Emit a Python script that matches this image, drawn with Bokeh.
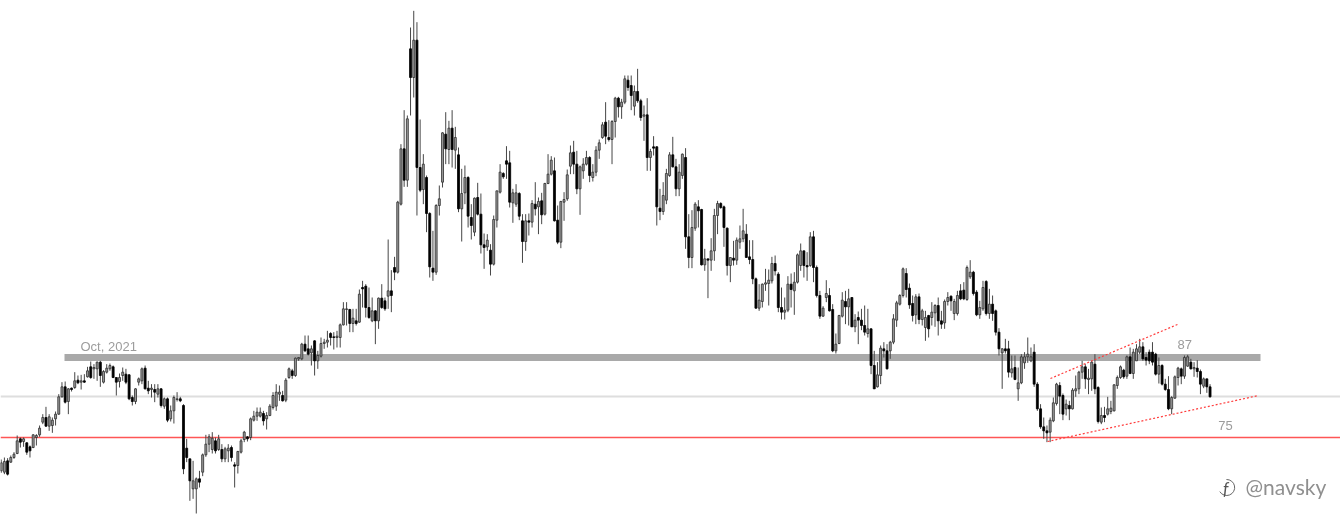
from bokeh.plotting import figure
from bokeh.embed import file_html
from bokeh.resources import INLINE
from bokeh.models import Range1d, ColumnDataSource
from bokeh.core.properties import value

# Each row: open, high, low, close
rise_2021 = [
(70.0,71.7,69.7,71.2),(69.8,72.0,69.5,71.4),(71.5,71.9,69.3,69.5),(71.3,72.3,71.2,72.0),(72.0,72.8,71.8,72.5),
(72.6,75.3,72.5,74.5),(74.8,75.0,73.5,74.3),(74.4,75.0,73.6,74.8),(74.2,74.3,72.4,72.8),(73.6,73.8,72.0,73.0),
(73.5,75.5,73.4,75.4),(75.0,75.5,73.8,75.3),(75.4,76.8,75.1,76.4),(77.3,78.5,77.0,78.0),(78.0,79.6,76.6,76.7),
(76.7,78.5,76.0,78.1),(76.8,78.0,75.7,77.6),(77.8,78.9,76.8,78.5),(78.5,81.5,78.4,81.1),(81.1,83.3,81.0,82.6),
(82.6,83.4,80.1,80.3),(80.4,82.4,78.5,82.3),(82.4,82.5,81.9,82.2),(82.5,84.8,82.3,83.5),(83.6,84.3,83.0,83.2),
(83.3,84.4,82.2,83.5),(83.5,84.5,83.2,83.3),(84.1,85.6,84.0,85.0),(85.6,86.4,83.8,84.0),(85.3,86.0,83.8,85.5),
(85.3,86.4,83.5,86.3),(86.3,86.5,82.6,84.3),(83.3,85.1,83.1,84.9),(84.8,86.0,84.6,85.4),(85.3,86.1,85.0,85.8),
(85.6,85.8,83.9,84.0),(84.0,84.0,81.3,83.3),(83.4,84.6,82.5,84.0),(84.3,85.5,83.5,84.8),(84.5,85.3,83.0,83.3),
(84.4,84.5,80.6,80.8),(81.0,81.3,79.8,80.4),(80.4,82.4,80.0,82.3),(83.3,84.0,82.8,83.8),(83.5,85.5,83.0,85.3),
(85.4,85.8,82.2,82.3),(82.4,83.5,81.5,82.0),(82.2,83.0,81.0,82.4),(82.2,83.0,80.3,81.8),(81.5,83.0,81.0,82.3),
(82.3,82.4,79.5,79.8),(79.7,81.0,79.3,80.8),(80.8,81.0,77.3,77.6),(77.8,79.8,77.4,79.0),(79.0,81.3,77.1,81.0),
(80.7,81.8,80.4,80.8),(80.8,81.1,80.3,80.5),
]
drop_and_recovery = [
(79.8,80.0,69.5,70.3),(73.4,74.8,71.3,72.0),(71.8,71.8,65.5,68.5),(67.3,71.5,65.8,68.5),(67.3,69.0,63.6,68.8),
(68.8,70.0,67.5,68.3),(69.8,72.6,69.2,72.4),(72.4,75.4,72.1,74.0),(74.0,75.5,72.8,75.1),(73.2,75.8,72.6,74.9),
(74.5,75.0,72.6,73.0),(73.2,75.4,73.0,74.8),(73.2,74.0,71.3,71.8),(71.8,73.6,71.3,73.3),(73.0,74.0,71.3,73.4),
(73.5,73.8,71.4,72.0),(70.9,71.3,67.5,70.7),(70.8,73.0,69.6,72.9),(72.8,74.8,72.6,74.5),(74.7,76.0,74.3,75.8),
(75.1,75.2,74.4,74.8),(75.0,78.0,74.6,77.8),(77.6,79.0,77.4,78.2),(78.2,79.5,77.5,78.8),(78.2,79.5,78.0,78.8),
(78.6,79.0,76.8,77.5),(77.8,78.8,76.2,78.3),(78.3,80.0,78.2,79.7),(79.5,81.8,79.2,81.3),(79.7,83.0,79.0,81.8),
(81.5,82.8,80.5,81.8),(81.3,82.0,80.4,80.5),(80.6,83.9,80.3,83.6),
]
climb_to_peak = [
(84.0,85.5,83.8,85.3),(85.0,85.3,83.8,84.3),(84.3,87.0,84.1,86.9),(86.8,87.0,86.5,87.0),(86.8,89.2,86.6,89.0),
(89.0,90.3,87.8,88.0),(88.3,90.3,87.3,87.5),(87.7,88.8,85.8,88.3),(89.5,89.6,84.3,86.5),(86.5,88.0,85.3,87.3),
(87.2,90.0,87.0,89.1),(89.1,89.8,88.3,89.3),(89.3,91.0,88.5,89.6),(90.6,90.8,88.8,90.0),(90.1,90.8,88.2,90.0),
(90.0,91.0,88.5,90.2),(90.0,92.1,88.5,91.9),(91.9,95.3,91.8,94.3),(94.2,95.3,91.8,94.3),(94.2,94.3,90.8,92.1),
(92.1,94.3,90.8,92.9),(92.5,94.3,91.8,92.1),(92.3,97.2,92.2,96.5),(97.5,98.5,94.5,97.3),(97.7,98.0,93.0,94.5),
(94.5,97.5,92.8,93.0),(92.5,96.0,92.3,94.0),(94.0,94.1,89.0,92.5),(92.5,96.0,91.3,95.9),(95.9,98.0,94.3,94.5),
(95.5,96.0,94.0,94.3),(96.2,104.7,94.3,97.0),(97.0,100.1,93.8,96.3),(100.5,102.1,98.6,99.8),(99.8,110.5,99.6,110.3),
(110.0,119.0,109.8,118.3),(118.3,124.1,112.6,113.6),(113.6,123.3,112.6,122.8),(133.3,136.5,123.3,129.0),(129.0,139.0,126.0,134.6),
(134.6,137.3,108.3,115.5),
]
after_peak = [
(115.5,122.7,111.8,112.1),(112.2,117.5,110.0,116.0),(114.0,114.3,105.8,108.6),(108.6,108.8,99.0,100.6),(100.4,106.0,98.5,99.8),
(99.8,110.0,99.4,109.8),(109.8,112.8,108.3,110.8),(113.3,120.8,112.5,120.7),(120.5,123.8,116.0,118.3),(118.2,122.5,116.0,121.4),
(121.4,124.1,115.5,118.2),(118.1,121.6,115.3,120.0),(117.4,118.5,108.8,109.3),(109.3,115.3,104.4,111.6),(111.7,115.8,110.0,114.0),
(114.0,114.2,106.5,108.2),(108.0,110.0,104.7,106.8),(105.8,111.0,105.2,110.9),(111.0,113.2,108.3,108.5),(108.5,111.6,102.6,103.9),
(103.9,105.6,100.3,103.5),(103.6,105.5,103.0,104.6),(103.1,104.0,99.3,101.0),(101.0,108.3,100.8,107.7),(107.6,112.0,106.5,112.0),
(111.8,116.0,111.6,114.8),(114.6,114.8,113.8,114.1),(116.5,118.7,113.8,116.0),(116.2,118.0,109.5,110.3),(110.2,112.3,107.2,111.7),
(110.0,113.0,109.6,111.7),(111.6,111.8,107.6,108.2),(107.5,108.5,101.2,104.4),(104.4,108.5,103.0,107.5),(107.5,108.6,105.3,107.3),
(107.3,110.6,106.5,110.1),(110.0,113.3,108.3,109.3),(109.6,111.0,105.5,110.4),(110.5,111.7,107.0,108.4),(108.5,113.2,108.3,113.1),
(113.1,117.5,113.0,114.5),(114.5,117.2,114.3,116.6),(115.0,117.0,107.4,107.5),(107.6,109.8,104.0,104.3),(104.3,110.5,103.4,110.4),
(110.3,111.8,107.5,110.7),(110.8,115.2,110.5,114.4),(115.7,118.8,114.5,117.7),(117.8,119.5,114.5,116.0),(116.0,118.0,111.5,112.3),
(112.3,115.8,108.4,115.6),
]
second_top = [
(115.0,116.9,113.8,116.0),(116.0,118.0,115.8,117.0),(117.0,117.2,113.3,114.3),(114.0,116.0,113.4,114.8),(114.8,118.7,114.2,118.1),
(118.1,119.7,116.8,119.2),(120.0,122.3,119.8,121.9),(122.3,125.3,119.0,120.2),(120.0,122.6,119.4,119.7),(119.7,122.6,116.0,122.4),
(122.4,126.1,120.0,125.9),(125.9,126.1,123.0,124.6),(124.6,125.8,122.8,125.3),(125.3,129.3,125.0,128.8),(128.6,129.3,127.0,127.5),
(127.8,129.3,124.1,126.3),(124.7,127.8,123.3,126.9),(126.9,130.3,125.2,125.5),(125.5,125.8,122.5,123.0),(123.2,124.8,119.5,123.4),
(123.4,125.9,115.0,117.0),(117.0,118.3,115.0,117.9),(118.6,120.2,117.3,118.4),(118.6,118.7,106.8,109.6),(109.4,112.3,107.6,108.9),
(108.9,113.3,108.4,111.3),(110.6,115.3,110.0,114.6),(114.3,117.8,114.1,117.4),(117.4,120.1,115.5,115.6),(115.6,116.8,111.2,112.3),
(112.3,116.0,111.2,114.8),(114.3,117.6,113.8,117.5),(117.0,118.4,103.3,105.1),(105.1,108.5,100.4,102.0),(102.0,109.1,100.4,106.5),
(106.4,110.3,106.0,110.0),(109.6,110.6,106.5,109.0),(109.2,109.3,100.8,100.9),(100.9,103.3,100.0,101.8),(101.8,101.8,95.9,101.6),
]
long_slide = [
(101.6,104.9,100.0,103.0),(103.0,109.3,101.5,108.3),(108.3,110.5,105.5,110.1),(110.1,110.3,109.3,109.5),(109.6,109.8,103.6,106.5),
(106.4,106.5,99.3,100.8),(100.8,102.0,98.3,102.0),(101.9,104.5,100.8,101.6),(101.6,105.0,100.9,104.6),(104.3,106.8,103.3,104.8),
(104.8,109.3,104.3,106.0),(105.5,107.0,102.0,102.0),(102.1,104.6,101.0,101.7),(101.7,104.6,98.0,98.8),(98.8,99.0,94.3,94.4),
(94.4,98.0,94.0,95.6),(95.4,98.1,94.5,98.0),(98.0,100.3,97.0,98.2),(98.1,100.2,94.8,98.6),(98.5,102.1,98.1,101.1),
(101.1,102.3,99.3,100.0),(99.5,99.8,93.8,94.5),(94.5,97.5,92.7,93.8),(93.8,96.0,92.7,94.1),(94.1,99.2,93.8,98.0),
(98.0,99.6,94.5,97.2),(97.0,99.8,93.4,98.3),(98.3,102.6,98.1,102.4),(100.8,104.1,100.0,103.0),(103.0,103.0,99.0,100.8),
(100.8,102.8,98.5,100.6),(100.8,105.8,100.6,105.1),(105.1,106.0,98.3,100.5),(100.5,100.8,96.0,96.3),(96.3,97.0,92.8,93.2),
(93.2,94.7,93.1,94.4),(96.0,98.6,95.3,96.6),(96.3,97.4,93.9,94.0),(94.2,95.0,87.8,88.0),(88.0,90.6,87.6,89.0),
(89.1,93.4,89.0,93.3),(93.2,96.8,93.0,95.6),(95.4,97.0,92.0,94.6),(94.6,97.3,91.8,95.8),(96.0,96.0,91.6,91.6),
(91.6,93.5,90.8,92.6),(93.0,93.9,89.0,92.6),(92.6,94.3,91.1,91.8),(91.8,94.8,90.3,90.8),(90.6,94.3,90.0,91.3),
]
range_2023 = [
(91.3,91.4,84.5,85.8),(85.8,88.0,82.3,82.3),(82.6,86.3,82.5,84.4),(84.3,88.8,83.0,88.4),(88.3,89.3,87.0,88.0),
(88.0,89.0,85.2,85.3),(88.0,89.5,86.8,89.3),(89.3,93.5,89.0,92.8),(92.6,95.5,91.6,95.2),(95.0,96.5,94.8,96.3),
(96.3,100.5,96.0,100.3),(99.6,100.4,96.0,97.2),(97.4,98.1,94.3,94.9),(95.1,96.3,92.4,93.3),(93.4,96.5,92.0,96.1),
(96.1,96.6,92.0,92.7),(92.7,94.3,91.8,94.0),(91.5,94.0,89.5,93.0),(93.3,93.4,90.0,91.3),(93.0,95.3,91.8,93.8),
(93.7,95.0,91.6,94.8),(94.8,96.0,90.3,92.5),(92.5,94.0,91.3,92.0),(92.2,95.7,91.3,95.4),(95.4,96.8,94.8,96.0),
(96.2,96.3,94.0,95.5),(93.6,95.8,92.6,95.4),(93.6,97.0,93.3,96.3),(97.0,98.0,95.6,95.8),(97.1,98.3,95.6,95.8),
(95.7,100.8,95.5,100.5),(99.1,101.6,98.8,99.8),(99.8,100.0,96.3,96.6),(96.8,97.1,93.2,93.4),(93.4,95.5,92.8,94.5),
(94.3,98.5,94.0,97.5),(98.4,98.6,93.3,93.6),(93.6,97.3,92.8,95.0),(95.0,96.3,92.5,93.6),(94.0,94.2,90.3,90.8),
(90.8,91.4,87.3,88.3),(87.7,88.4,82.3,88.3),(88.3,89.8,87.6,88.0),(88.3,89.5,84.0,84.8),(84.7,87.3,84.0,85.3),
(85.5,87.3,83.6,83.7),(82.3,85.5,80.5,83.2),(83.2,87.5,83.0,87.1),(86.2,87.8,85.3,87.1),(87.1,90.0,86.2,87.5),
(86.5,88.5,86.3,87.1),
]
channel_2024 = [
(87.8,89.0,82.6,83.0),(83.0,83.3,79.0,79.3),(79.3,80.0,76.3,76.6),(76.6,78.0,74.8,76.0),(76.0,76.8,74.3,75.7),
(75.8,78.0,74.3,77.6),(77.5,81.0,77.3,80.2),(80.1,83.2,79.8,83.0),(82.8,83.3,78.5,81.2),(81.3,81.6,77.6,78.5),
(79.3,80.7,78.3,80.0),(79.8,80.5,77.6,79.3),(79.3,82.4,79.2,82.1),(82.0,84.3,81.1,82.3),(82.3,85.0,81.5,84.8),
(84.8,86.5,83.8,85.6),(85.6,86.0,82.3,83.8),(83.7,85.3,81.5,83.9),(83.8,86.5,82.0,86.3),(86.0,87.5,81.5,82.3),
(82.5,82.7,77.1,77.4),(77.3,79.5,77.0,78.3),(78.3,79.6,77.3,78.0),(78.5,81.1,78.3,79.3),(78.9,80.5,78.5,79.4),
(79.0,83.0,78.9,82.9),(82.8,84.3,82.3,84.0),(84.0,85.8,83.8,85.6),(85.1,85.3,83.8,84.1),(84.2,87.3,83.8,87.1),
(87.1,88.5,84.5,84.6),(84.6,88.3,83.8,87.8),(86.5,89.0,86.5,88.3),(87.8,89.8,87.5,88.6),(88.6,89.3,86.5,86.8),
(87.0,87.8,85.8,86.6),(87.8,88.2,86.0,86.5),(87.8,89.3,85.8,86.3),(87.5,87.7,84.3,84.5),(84.5,87.0,83.1,85.8),
(85.8,86.0,82.8,83.0),(83.0,83.8,82.0,82.2),(82.2,84.2,79.1,79.3),(79.3,81.2,78.5,81.0),(80.9,84.3,80.8,84.1),
(84.0,85.6,82.8,85.4),(85.3,85.5,83.0,84.2),(84.2,87.3,83.8,87.0),(85.7,87.4,85.6,87.1),(86.3,86.8,85.2,85.3),
(85.3,86.3,84.1,85.5),(85.4,86.6,84.0,84.9),(84.9,85.2,81.5,83.0),(82.7,84.0,82.4,83.8),(83.8,83.8,81.7,82.6),
(82.6,83.0,81.0,81.1),
]

bar_step = 3.198
support_level = 75
resistance_level = 87
middle_level = 81.15
oct_2021_label = "Oct, 2021"
upper_label = "87"
lower_label = "75"
credit = "@navsky"

rows = (rise_2021 + drop_and_recovery + climb_to_peak + after_peak + second_top
        + long_slide + range_2023 + channel_2024)
opens = [r[0] for r in rows]
highs = [r[1] for r in rows]
lows = [r[2] for r in rows]
closes = [r[3] for r in rows]
index = list(range(len(rows)))

up = [i for i in index if closes[i] >= opens[i]]
down = [i for i in index if closes[i] < opens[i]]
def src(ids):
    return ColumnDataSource(dict(
        x=ids,
        top=[max(opens[i], closes[i]) for i in ids],
        bottom=[min(opens[i], closes[i]) for i in ids],
    ))

p = figure(width=1340, height=519, output_backend="svg", toolbar_location=None,
           x_range=Range1d(-0.7 / bar_step, (1340 - 0.7) / bar_step),
           y_range=Range1d(62.7, 140.55),
           min_border=0, min_border_left=0, min_border_right=0, min_border_top=0, min_border_bottom=0,
           outline_line_color=None, background_fill_color="white", border_fill_color="white")
p.axis.visible = False
p.grid.visible = False
p.styles = {"position": "fixed", "left": "0px", "top": "0px"}

right = p.x_range.end
left = p.x_range.start
band_start = (64 - 0.7) / bar_step
band_end = (1260 - 0.7) / bar_step
p.line([left, right], [middle_level, middle_level], line_color="#dedede", line_width=2)
p.line([left, right], [support_level, support_level], line_color="#ff5656", line_width=1.6)
p.line([band_start, band_end], [resistance_level, resistance_level], line_color="#a9a9a9", line_width=7)

p.segment(index, highs, index, lows, line_color="#464646", line_width=1)
p.vbar(x="x", top="top", bottom="bottom", width=0.62, source=src(up),
       fill_color="#9a9a9a", line_color="#2e2e2e", line_width=0.8)
p.vbar(x="x", top="top", bottom="bottom", width=0.62, source=src(down),
       fill_color="black", line_color="black", line_width=0.8)

p.line([327.2, 393.2], [74.4, 81.3], line_color="#ff3c3c", line_width=1.2, line_dash="2 2")
p.line([328.1, 367.8], [83.85, 91.95], line_color="#ff3c3c", line_width=1.2, line_dash="2 2")

label_font = value("Liberation Sans")
p.text([24.8], [88.65], text=[oct_2021_label], text_font=label_font, text_font_size="13px",
       text_color="#9c9c9c", text_baseline="middle")
p.text([367.8], [88.95], text=[upper_label], text_font=label_font, text_font_size="13px",
       text_color="#9c9c9c", text_baseline="middle")
p.text([380.6], [76.8], text=[lower_label], text_font=label_font, text_font_size="13px",
       text_color="#9c9c9c", text_baseline="middle")
p.text([389.1], [67.6], text=[credit], text_font=value("Lato"), text_font_size="21px",
       text_color="#8f8f8f", text_baseline="middle")
p.arc([383.2], [67.5], radius=8, radius_units="screen", start_angle=-2.6, end_angle=1.6,
      line_color="#666666", line_width=1)
p.text([382.9], [67.3], text=["f"], text_font=value("Lato"), text_font_style="italic", text_font_size="17px",
       text_color="#555555", text_align="center", text_baseline="middle")

open("out.html", "w").write(file_html(p, INLINE))
